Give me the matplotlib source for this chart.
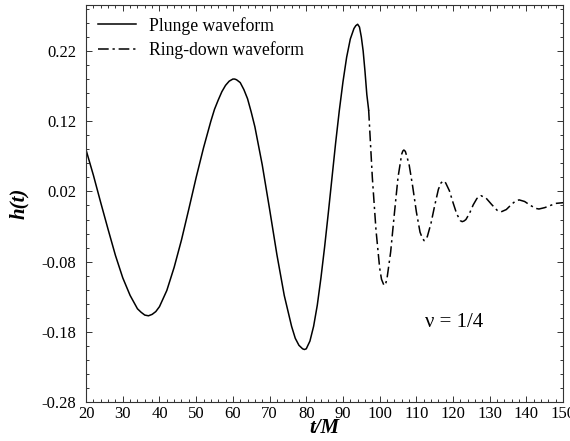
import matplotlib
matplotlib.use('Agg')
import matplotlib.pyplot as plt
from matplotlib.ticker import AutoMinorLocator

plt.rcParams['font.family'] = ['Liberation Serif', 'DejaVu Serif']

# plunge waveform
t_plunge = [20, 22, 24, 26, 28, 30, 32, 34, 35, 36, 37, 38, 39, 40, 42, 44, 46,
            48, 50, 52, 54, 55, 56, 57, 58, 59, 60, 60.5, 61, 62, 63, 64, 65, 66,
            68, 70, 72, 74, 76, 77, 78, 79, 79.5, 80, 81, 82, 83, 84, 85, 86, 87,
            88, 89, 90, 91, 92, 93, 93.5, 94, 94.5, 95, 95.5, 96, 96.5, 97]
h_plunge = [0.079, 0.043, 0.004, -0.034, -0.071, -0.103, -0.128, -0.147, -0.152,
            -0.156, -0.157, -0.155, -0.151, -0.144, -0.121, -0.088, -0.049,
            -0.005, 0.040, 0.082, 0.120, 0.137, 0.150, 0.162, 0.171, 0.177, 0.180,
            0.180, 0.179, 0.175, 0.165, 0.152, 0.133, 0.112, 0.058, -0.005,
            -0.070, -0.128, -0.172, -0.189, -0.199, -0.204, -0.205, -0.204,
            -0.193, -0.172, -0.142, -0.103, -0.059, -0.011, 0.039, 0.089, 0.135,
            0.176, 0.211, 0.237, 0.252, 0.256, 0.258, 0.254, 0.240, 0.220, 0.191,
            0.158, 0.136]

# ring-down waveform
t_ring = [97, 98, 99, 100, 100.5, 101.2, 101.7, 102, 103, 104, 105, 106, 106.3,
          106.6, 107, 108, 109, 110, 111, 111.6, 112.1, 112.5, 113, 114, 115,
          116, 116.7, 117.3, 117.7, 118, 119, 120, 121, 122, 122.5, 123, 123.5,
          124.5, 125.5, 126.5, 127.6, 129, 130.5, 132, 133.1, 134.5, 136, 137,
          138, 139.5, 141, 142.5, 143.4, 145, 146.5, 148, 150]
h_ring = [0.136, 0.040, -0.035, -0.089, -0.105, -0.114, -0.110, -0.104, -0.066,
          -0.012, 0.040, 0.073, 0.0775, 0.079, 0.077, 0.059, 0.027, -0.009,
          -0.038, -0.046, -0.050, -0.049, -0.044, -0.025, 0.000, 0.023, 0.032,
          0.035, 0.034, 0.032, 0.021, 0.004, -0.012, -0.0217, -0.023, -0.022,
          -0.020, -0.011, 0.001, 0.010, 0.014, 0.0105, 0.0015, -0.0068, -0.009,
          -0.0058, 0.0019, 0.0063, 0.008, 0.0057, 0.0004, -0.0041, -0.005,
          -0.003, 0.000, 0.003, 0.004]

xticks = [20, 30, 40, 50, 60, 70, 80, 90, 100, 110, 120, 130, 140, 150]
yticks = [-0.28, -0.18, -0.08, 0.02, 0.12, 0.22]

fig = plt.figure(figsize=(5.7, 4.41), dpi=100)
ax = fig.add_axes([0.151, 0.088, 0.837, 0.900])

ax.plot(t_plunge, h_plunge, color='black', lw=1.1, label='Plunge waveform')
ax.plot(t_ring, h_ring, color='black', lw=1.1, dashes=(7, 2.5, 1.5, 2.5),
        label='Ring-down waveform')

ax.set_xlim(20, 150)
ax.set_ylim(-0.28, 0.285)
ax.set_xticks(xticks)
ax.set_yticks(yticks)
ax.set_yticklabels(['%.2f' % v for v in yticks])
ax.xaxis.set_minor_locator(AutoMinorLocator(5))
ax.yaxis.set_minor_locator(AutoMinorLocator(5))
ax.tick_params(which='both', direction='in', top=True, right=True,
               labelsize=12, width=0.7, colors='#333333', labelcolor='black')
ax.tick_params(which='major', length=4.5)
ax.tick_params(which='minor', length=2.5)
ax.tick_params(axis='x', which='major', pad=3)
ax.tick_params(axis='y', which='major', pad=7)
for s in ax.spines.values():
    s.set_linewidth(0.8)
    s.set_color('#333333')

ax.set_xlabel('t/M', fontsize=15, style='italic', weight='bold', labelpad=-3)
ax.set_ylabel('h(t)', fontsize=15, style='italic', weight='bold', labelpad=9)

ax.text(112.4, -0.167, 'ν = 1/4', fontsize=15, va='center')

ax.legend(loc='upper left', frameon=False, fontsize=12.7, handlelength=2.2,
          borderaxespad=0.25, handletextpad=0.7, labelspacing=0.35)

fig.savefig('out.png', dpi=100)
